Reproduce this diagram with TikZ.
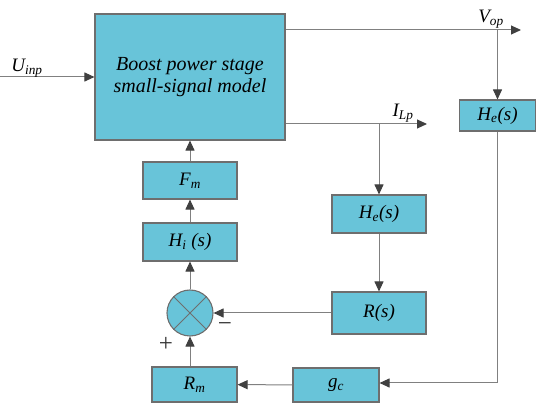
\documentclass[tikz,border=0pt]{standalone}
\usepackage{fontspec}
\setmainfont{Liberation Serif}
\usetikzlibrary{arrows.meta,positioning}

\definecolor{boxfill}{RGB}{104,196,217}
\definecolor{boxline}{RGB}{110,110,110}
\definecolor{wire}{RGB}{128,128,128}
\definecolor{tipc}{RGB}{64,64,64}

\newcommand{\sbs}[1]{\textsubscript{#1}}

\tikzset{
	blk/.style={draw=boxline, line width=1.1pt, fill=boxfill, inner sep=0pt,
		font=\fontsize{19}{22}\selectfont\itshape},
	sig/.style={draw=wire, line width=1pt, -{Triangle[length=10pt,width=9pt,color=tipc]}},
	lne/.style={draw=wire, line width=1pt},
	lbl/.style={font=\fontsize{19}{22}\selectfont\itshape, inner sep=0pt},
	sgn/.style={font=\fontsize{25}{25}\selectfont, text=black!80, inner sep=0pt}
}

\begin{document}
\begin{tikzpicture}[x=1pt,y=-1pt]
	\useasboundingbox (0,0) rectangle (536,403);

	% blocks
	\node[blk, minimum width=190pt, minimum height=126pt, align=center,
		font=\fontsize{20}{22}\selectfont\itshape] (bp) at (190,77)
		{Boost power stage\\small-signal model};
	\node[blk, minimum width=94pt, minimum height=37pt] (fm) at (190,180.5) {F\sbs{m}};
	\node[blk, minimum width=94pt, minimum height=38pt] (hi) at (190,242) {H\sbs{i} (s)};
	\node[blk, circle, minimum size=46pt] (sum) at (190,313) {};
	\node[blk, minimum width=85pt, minimum height=35pt] (rm) at (194.5,384.5) {R\sbs{m}};
	\node[blk, minimum width=86pt, minimum height=34pt] (gc) at (336,385) {g\sbs{c}};
	\node[blk, minimum width=94pt, minimum height=38pt] (hei) at (379,214) {H\sbs{e}(s)};
	\node[blk, minimum width=94pt, minimum height=42pt] (rs) at (379,313) {R(s)};
	\node[blk, minimum width=76pt, minimum height=31pt] (hev) at (497.5,115.5) {H\sbs{e}(s)};

	% cross in the summing junction
	\draw[boxline, line width=0.8pt] (sum.45) -- (sum.225) (sum.135) -- (sum.-45);

	% free ends and branch points
	\coordinate (uin) at (0,77);
	\coordinate (vo) at (521,30);
	\coordinate (il) at (427,124);
	\coordinate (bv) at (497.5,30);
	\coordinate (bi) at (379,124);
	\coordinate (cv) at (497.5,383);

	% signals
	\draw[sig] (uin) -- (bp.west |- uin);
	\draw[sig] (bp.east |- vo) -- (vo);
	\draw[sig] (bp.east |- il) -- (il);
	\draw[sig] (bv) -- (hev.north);
	\draw[sig] (bi) -- (hei.north);
	\draw[sig] (hei) -- (rs);
	\draw[sig] (rs) -- (sum);
	\draw[lne] (hev.south) -- (cv);
	\draw[sig] (cv) -- (gc.east |- cv);
	\draw[sig] (gc) -- (rm);
	\draw[sig] (rm.north -| sum) -- (sum);
	\draw[sig] (sum) -- (hi);
	\draw[sig] (hi) -- (fm);
	\draw[sig] (fm) -- (bp);

	% labels
	\node[lbl] (tu) at (27,68) {U\sbs{inp}};
	\node[lbl] (tv) at (491,19) {V\sbs{op}};
	\node[lbl] (ti) at (403,113) {I\sbs{Lp}};
	\node[sgn] (tp) at (166,344) {+};
	\node[sgn] (tm) at (225,327) {−};
\end{tikzpicture}
\end{document}
